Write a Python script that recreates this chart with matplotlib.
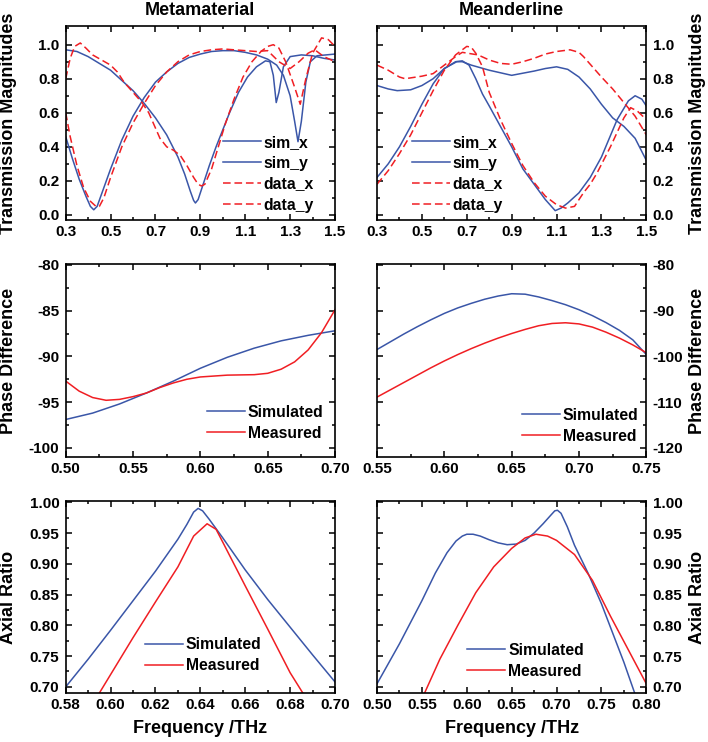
import matplotlib
matplotlib.use('Agg')
import matplotlib.pyplot as plt
from matplotlib.ticker import AutoMinorLocator, FormatStrFormatter

BLUE='#3a56a8'
RED='#f01e23'

#transmission magnitudes - metamaterial
meta_simx_f=[0.30,0.35,0.40,0.45,0.50,0.55,0.60,0.65,0.70,0.75,0.80,0.83,0.855,0.87,0.878,0.89,0.91,0.94,0.97,1.00,1.03,1.07,1.11,1.15,1.19,1.21,1.225,1.238,1.25,1.27,1.30,1.35,1.40,1.45,1.50]
meta_simx_t=[0.97,0.96,0.93,0.89,0.85,0.79,0.73,0.655,0.57,0.47,0.34,0.24,0.14,0.085,0.07,0.09,0.17,0.29,0.40,0.50,0.60,0.72,0.81,0.87,0.905,0.90,0.82,0.66,0.72,0.87,0.93,0.94,0.935,0.92,0.91]
meta_simy_f=[0.30,0.33,0.36,0.39,0.41,0.425,0.44,0.47,0.50,0.55,0.60,0.65,0.70,0.75,0.80,0.85,0.90,0.95,1.00,1.05,1.10,1.15,1.20,1.24,1.27,1.30,1.32,1.335,1.35,1.37,1.39,1.42,1.46,1.50]
meta_simy_t=[0.46,0.33,0.21,0.11,0.05,0.03,0.05,0.16,0.27,0.44,0.58,0.69,0.78,0.84,0.89,0.925,0.945,0.96,0.965,0.965,0.955,0.94,0.915,0.88,0.82,0.70,0.55,0.43,0.55,0.78,0.90,0.935,0.94,0.945]
meta_datax_f=[0.30,0.32,0.34,0.365,0.39,0.42,0.46,0.50,0.53,0.56,0.60,0.64,0.67,0.70,0.72,0.75,0.78,0.81,0.84,0.87,0.89,0.905,0.92,0.95,0.98,1.01,1.05,1.09,1.13,1.17,1.20,1.225,1.25,1.28,1.32,1.345,1.37,1.40,1.44,1.47,1.50]
meta_datax_t=[0.80,0.92,0.99,1.01,0.98,0.94,0.91,0.88,0.84,0.78,0.72,0.66,0.60,0.51,0.45,0.40,0.38,0.35,0.29,0.22,0.18,0.17,0.18,0.27,0.40,0.53,0.68,0.81,0.90,0.96,0.99,1.00,0.98,0.90,0.75,0.65,0.80,0.95,1.04,1.03,0.99]
meta_datay_f=[0.30,0.32,0.35,0.38,0.41,0.435,0.45,0.47,0.50,0.55,0.60,0.65,0.70,0.75,0.80,0.85,0.90,0.95,1.00,1.05,1.10,1.15,1.20,1.25,1.30,1.34,1.38,1.41,1.45,1.50]
meta_datay_t=[0.60,0.46,0.29,0.16,0.08,0.05,0.05,0.10,0.22,0.40,0.54,0.655,0.76,0.84,0.90,0.94,0.96,0.97,0.975,0.97,0.965,0.96,0.965,0.90,0.86,0.90,0.95,0.97,0.93,0.90]

#transmission magnitudes - meanderline
mean_simx_f=[0.30,0.35,0.39,0.45,0.50,0.55,0.60,0.655,0.68,0.72,0.80,0.90,1.00,1.05,1.10,1.15,1.20,1.25,1.30,1.35,1.40,1.45,1.50]
mean_simx_t=[0.76,0.74,0.73,0.735,0.76,0.80,0.86,0.90,0.90,0.88,0.85,0.82,0.845,0.86,0.87,0.855,0.81,0.74,0.65,0.57,0.52,0.45,0.32]
mean_simy_f=[0.30,0.35,0.40,0.45,0.50,0.55,0.60,0.65,0.68,0.71,0.74,0.77,0.80,0.85,0.90,0.95,1.00,1.05,1.094,1.12,1.15,1.20,1.25,1.30,1.37,1.42,1.45,1.48,1.50]
mean_simy_t=[0.22,0.30,0.40,0.52,0.65,0.77,0.86,0.90,0.905,0.88,0.80,0.71,0.64,0.52,0.40,0.27,0.18,0.09,0.025,0.04,0.07,0.13,0.22,0.34,0.56,0.67,0.70,0.68,0.64]
mean_datax_f=[0.30,0.35,0.40,0.425,0.50,0.55,0.60,0.65,0.68,0.75,0.80,0.85,0.90,0.95,1.00,1.05,1.10,1.16,1.20,1.22,1.26,1.30,1.35,1.40,1.45,1.50]
mean_datax_t=[0.88,0.85,0.81,0.80,0.815,0.83,0.88,0.93,0.955,0.94,0.91,0.89,0.885,0.90,0.92,0.945,0.96,0.97,0.955,0.93,0.87,0.81,0.74,0.66,0.58,0.47]
mean_datay_f=[0.30,0.35,0.40,0.45,0.50,0.55,0.60,0.65,0.70,0.72,0.74,0.77,0.80,0.85,0.90,0.95,1.00,1.05,1.10,1.14,1.18,1.22,1.25,1.28,1.34,1.40,1.43,1.46,1.50]
mean_datay_t=[0.18,0.26,0.36,0.47,0.60,0.73,0.85,0.94,0.99,0.985,0.95,0.87,0.72,0.56,0.42,0.29,0.19,0.11,0.06,0.04,0.05,0.13,0.18,0.245,0.40,0.57,0.63,0.61,0.56]

#phase difference - metamaterial
meta_phase_f=[0.50,0.52,0.54,0.56,0.58,0.60,0.62,0.64,0.66,0.68,0.70]
meta_phase_sim=[-96.9,-96.2,-95.2,-94.0,-92.7,-91.3,-90.1,-89.1,-88.3,-87.7,-87.2]
meta_phase_meas_f=[0.50,0.51,0.52,0.53,0.54,0.55,0.56,0.57,0.58,0.59,0.60,0.62,0.64,0.65,0.66,0.67,0.68,0.69,0.70]
meta_phase_meas=[-92.7,-93.8,-94.5,-94.8,-94.7,-94.4,-94.0,-93.4,-92.9,-92.5,-92.25,-92.05,-92.0,-91.85,-91.4,-90.6,-89.3,-87.4,-84.9]

#phase difference - meanderline
mean_phase_f=[0.55,0.56,0.57,0.58,0.59,0.60,0.61,0.62,0.63,0.64,0.65,0.66,0.67,0.68,0.69,0.70,0.71,0.72,0.73,0.74,0.75]
mean_phase_sim=[-98.5,-96.8,-95.1,-93.5,-92.0,-90.6,-89.4,-88.4,-87.5,-86.8,-86.3,-86.4,-87.0,-87.8,-88.7,-89.8,-91.1,-92.6,-94.3,-96.4,-99.6]
mean_phase_meas=[-108.9,-107.3,-105.7,-104.1,-102.5,-101.0,-99.6,-98.3,-97.1,-96.0,-95.0,-94.1,-93.3,-92.8,-92.65,-92.9,-93.6,-94.7,-96.0,-97.5,-99.2]

#axial ratio - metamaterial
meta_ar_sim_f=[0.58,0.59,0.60,0.61,0.62,0.63,0.634,0.637,0.639,0.641,0.644,0.65,0.66,0.67,0.68,0.69,0.70]
meta_ar_sim=[0.70,0.745,0.792,0.84,0.888,0.94,0.964,0.984,0.99,0.986,0.972,0.942,0.89,0.842,0.797,0.752,0.708]
meta_ar_meas_f=[0.595,0.60,0.61,0.62,0.63,0.637,0.643,0.647,0.65,0.66,0.67,0.68,0.686]
meta_ar_meas=[0.69,0.72,0.78,0.838,0.895,0.945,0.965,0.956,0.935,0.864,0.794,0.723,0.688]

#axial ratio - meanderline
mean_ar_sim_f=[0.50,0.525,0.55,0.565,0.578,0.588,0.595,0.60,0.607,0.615,0.625,0.635,0.645,0.655,0.665,0.675,0.685,0.693,0.698,0.701,0.705,0.712,0.72,0.735,0.75,0.775,0.787]
mean_ar_sim=[0.705,0.77,0.84,0.885,0.918,0.937,0.945,0.948,0.948,0.945,0.939,0.934,0.931,0.932,0.938,0.95,0.965,0.978,0.986,0.987,0.982,0.96,0.93,0.885,0.835,0.74,0.69]
mean_ar_meas_f=[0.553,0.57,0.59,0.61,0.63,0.65,0.665,0.677,0.69,0.70,0.72,0.74,0.76,0.78,0.80]
mean_ar_meas=[0.69,0.745,0.80,0.853,0.895,0.925,0.942,0.948,0.945,0.938,0.915,0.873,0.815,0.76,0.705]

plt.rcParams['font.family']=['Liberation Sans','DejaVu Sans']
plt.rcParams['font.weight']='bold'
plt.rcParams['axes.labelweight']='bold'
plt.rcParams['axes.unicode_minus']=False

fig=plt.figure(figsize=(7.08,7.42),dpi=100)

#axes positions [left,bottom,width,height]
cols=[0.0928,0.5325]
rows=[(0.7035,0.2615),(0.3841,0.2601),(0.0660,0.2588)]
axs=[[fig.add_axes([c,b,0.3804,h]) for c in cols] for b,h in rows]

def style(ax,xticks,yticks,xlim,ylim,xfmt,yfmt,right=False):
    ax.set_xlim(xlim)
    ax.set_ylim(ylim)
    ax.set_xticks(xticks)
    ax.set_yticks(yticks)
    ax.xaxis.set_minor_locator(AutoMinorLocator(2))
    ax.yaxis.set_minor_locator(AutoMinorLocator(2))
    ax.xaxis.set_major_formatter(FormatStrFormatter(xfmt))
    ax.yaxis.set_major_formatter(FormatStrFormatter(yfmt))
    ax.tick_params(which='both',direction='in',top=True,right=True,left=True,bottom=True,width=1.1)
    ax.tick_params(which='major',length=4,labelsize=11)
    ax.tick_params(which='minor',length=2)
    ax.tick_params(axis='x',pad=3.5)
    ax.tick_params(axis='y',pad=4.5)
    if right:
        ax.tick_params(axis='y',labelleft=False,labelright=True)
        ax.yaxis.set_label_position('right')
    for s in ax.spines.values():
        s.set_linewidth(1.2)

def legend(ax,x,y):
    ax.legend(loc='upper left',bbox_to_anchor=(x,y),frameon=False,fontsize=11.3,
              handlelength=2.4,handletextpad=0.2,labelspacing=0.38,borderpad=0,borderaxespad=0)

lw=1.1
dash=(5,2.5)

#top row: transmission
ax=axs[0][0]
ax.plot(meta_simx_f,meta_simx_t,color=BLUE,lw=lw,label='sim_x')
ax.plot(meta_simy_f,meta_simy_t,color=BLUE,lw=lw,label='sim_y')
ax.plot(meta_datax_f,meta_datax_t,color=RED,lw=lw,dashes=dash,label='data_x')
ax.plot(meta_datay_f,meta_datay_t,color=RED,lw=lw,dashes=dash,label='data_y')
style(ax,[0.3,0.5,0.7,0.9,1.1,1.3,1.5],[0,0.2,0.4,0.6,0.8,1.0],(0.3,1.5),(-0.03,1.11),'%.1f','%.1f')
ax.set_title('Metamaterial',fontsize=13,fontweight='bold',pad=8)
ax.set_ylabel('Transmission Magnitudes',fontsize=13)
legend(ax,0.584,0.44)

ax=axs[0][1]
ax.plot(mean_simx_f,mean_simx_t,color=BLUE,lw=lw,label='sim_x')
ax.plot(mean_simy_f,mean_simy_t,color=BLUE,lw=lw,label='sim_y')
ax.plot(mean_datax_f,mean_datax_t,color=RED,lw=lw,dashes=dash,label='data_x')
ax.plot(mean_datay_f,mean_datay_t,color=RED,lw=lw,dashes=dash,label='data_y')
style(ax,[0.3,0.5,0.7,0.9,1.1,1.3,1.5],[0,0.2,0.4,0.6,0.8,1.0],(0.3,1.5),(-0.03,1.11),'%.1f','%.1f',right=True)
ax.set_title('Meanderline',fontsize=13,fontweight='bold',pad=8)
ax.set_ylabel('Transmission Magnitudes',fontsize=13)
legend(ax,0.130,0.44)

#middle row: phase difference
ax=axs[1][0]
ax.plot(meta_phase_f,meta_phase_sim,color=BLUE,lw=lw,label='Simulated')
ax.plot(meta_phase_meas_f,meta_phase_meas,color=RED,lw=lw,label='Measured')
style(ax,[0.50,0.55,0.60,0.65,0.70],[-100,-95,-90,-85,-80],(0.5,0.7),(-101,-79.9),'%.2f','%d')
ax.set_ylabel('Phase Difference',fontsize=13)
legend(ax,0.525,0.27)

ax=axs[1][1]
ax.plot(mean_phase_f,mean_phase_sim,color=BLUE,lw=lw,label='Simulated')
ax.plot(mean_phase_f,mean_phase_meas,color=RED,lw=lw,label='Measured')
style(ax,[0.55,0.60,0.65,0.70,0.75],[-120,-110,-100,-90,-80],(0.55,0.75),(-122,-79.8),'%.2f','%d',right=True)
ax.set_ylabel('Phase Difference',fontsize=13)
legend(ax,0.539,0.255)

#bottom row: axial ratio
ax=axs[2][0]
ax.plot(meta_ar_sim_f,meta_ar_sim,color=BLUE,lw=lw,label='Simulated')
ax.plot(meta_ar_meas_f,meta_ar_meas,color=RED,lw=lw,label='Measured')
style(ax,[0.58,0.60,0.62,0.64,0.66,0.68,0.70],[0.70,0.75,0.80,0.85,0.90,0.95,1.00],(0.58,0.70),(0.69,1.002),'%.2f','%.2f')
ax.set_ylabel('Axial Ratio',fontsize=13)
ax.set_xlabel('Frequency /THz',fontsize=13)
legend(ax,0.294,0.29)

ax=axs[2][1]
ax.plot(mean_ar_sim_f,mean_ar_sim,color=BLUE,lw=lw,label='Simulated')
ax.plot(mean_ar_meas_f,mean_ar_meas,color=RED,lw=lw,label='Measured')
style(ax,[0.50,0.55,0.60,0.65,0.70,0.75,0.80],[0.70,0.75,0.80,0.85,0.90,0.95,1.00],(0.5,0.8),(0.69,1.002),'%.2f','%.2f',right=True)
ax.set_ylabel('Axial Ratio',fontsize=13)
ax.set_xlabel('Frequency /THz',fontsize=13)
legend(ax,0.335,0.262)

#label positions
for r in range(3):
    axs[r][0].yaxis.set_label_coords(-0.181,0.5)
    axs[r][1].yaxis.set_label_coords(1.160,0.5)
for c in range(2):
    axs[2][c].xaxis.set_label_coords(0.5,-0.14)

fig.savefig('out.png',dpi=100)
